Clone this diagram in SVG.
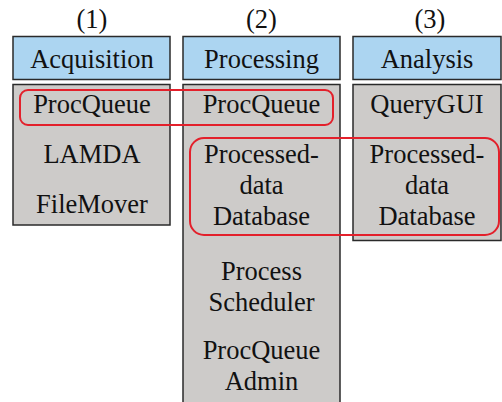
<svg xmlns="http://www.w3.org/2000/svg" width="502" height="402" viewBox="0 0 502 402">
<style>
text{font-family:"Liberation Serif","Times New Roman",serif;font-size:26.5px;fill:#111;text-anchor:middle}
.hd{fill:#acd5f1;stroke:#2a2a2a;stroke-width:1.5}
.bd{fill:#cdcbc9;stroke:#2a2a2a;stroke-width:1.5}
.hl{fill:none;stroke:#e3202b;stroke-width:2}
</style>
<rect width="502" height="402" fill="#fff"/>
<g id="col1">
<text x="92" y="28">(1)</text>
<rect class="hd" x="13" y="36.5" width="157" height="43"/>
<text x="92" y="68">Acquisition</text>
<rect class="bd" x="13" y="84.5" width="157" height="140.5"/>
<text x="92" y="113">ProcQueue</text>
<text x="92" y="163">LAMDA</text>
<text x="92" y="213">FileMover</text>
</g>
<g id="col2">
<text x="261.5" y="28">(2)</text>
<rect class="hd" x="183" y="36.5" width="157" height="43"/>
<text x="261.5" y="68">Processing</text>
<rect class="bd" x="183" y="84.5" width="157" height="320"/>
<text x="261.5" y="113">ProcQueue</text>
<text x="261.5" y="163">Processed-</text>
<text x="261.5" y="194">data</text>
<text x="261.5" y="225">Database</text>
<text x="261.5" y="280">Process</text>
<text x="261.5" y="311">Scheduler</text>
<text x="261.5" y="359">ProcQueue</text>
<text x="261.5" y="390">Admin</text>
</g>
<g id="col3">
<text x="430" y="28">(3)</text>
<rect class="hd" x="353" y="36.5" width="148" height="43"/>
<text x="427" y="68">Analysis</text>
<rect class="bd" x="353" y="84.5" width="148" height="156"/>
<text x="427" y="113">QueryGUI</text>
<text x="427" y="163">Processed-</text>
<text x="427" y="194">data</text>
<text x="427" y="225">Database</text>
</g>
<g id="connectors">
<rect class="hl" x="20" y="90" width="313" height="35" rx="8"/>
<rect class="hl" x="190" y="138" width="309" height="97" rx="14"/>
</g>
</svg>
